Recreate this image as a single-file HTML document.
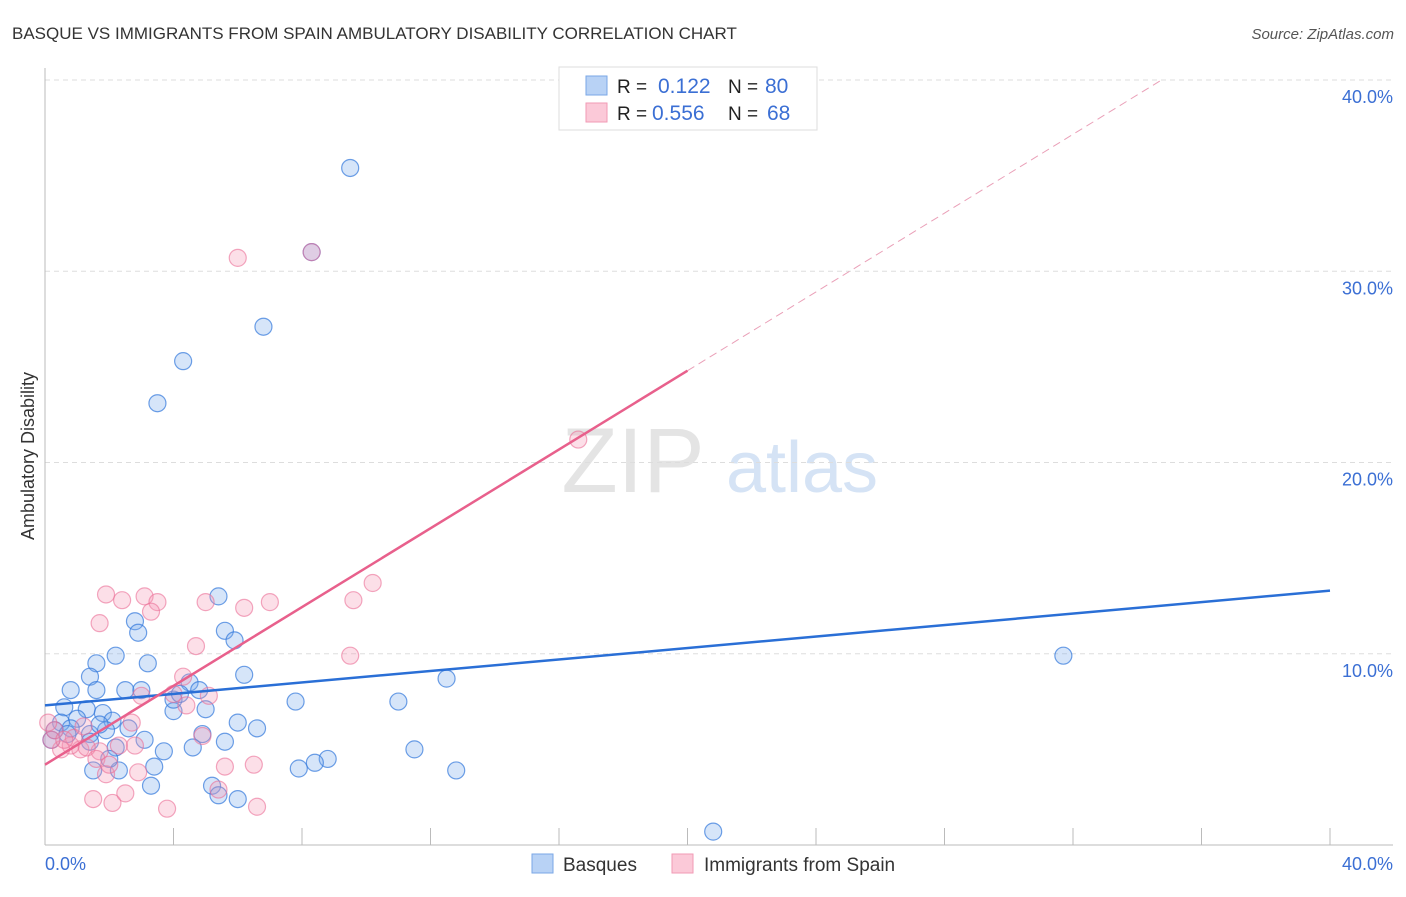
<!DOCTYPE html>
<html><head><meta charset="utf-8">
<style>
body{margin:0;background:#fff;font-family:"Liberation Sans",sans-serif;}
svg text{font-family:"Liberation Sans",sans-serif;}
</style></head>
<body>
<svg id="chart" width="1406" height="892" viewBox="0 0 1406 892">
<text x="12" y="39" font-size="17" fill="#333">BASQUE VS IMMIGRANTS FROM SPAIN AMBULATORY DISABILITY CORRELATION CHART</text>
<text x="1394" y="39" font-size="15" fill="#555" text-anchor="end" font-style="italic">Source: ZipAtlas.com</text>
<g>
<text x="633" y="492" font-size="92" fill="#e4e4e4" font-family="Liberation Serif" text-anchor="middle">ZIP</text>
<text x="802" y="492" font-size="72" fill="#d5e3f5" text-anchor="middle">atlas</text>
</g>
<g id="grid"></g>
<g id="axes"></g>
<g id="points"></g>
<g id="trends"></g>
<text transform="translate(34,456) rotate(-90)" font-size="18" fill="#333" text-anchor="middle">Ambulatory Disability</text>
<text x="45" y="870" font-size="18" fill="#3b6fd4">0.0%</text>
<text x="1393" y="870" font-size="18" fill="#3b6fd4" text-anchor="end">40.0%</text>
<g>
<rect x="559" y="67" width="258" height="63" fill="#fff" stroke="#ddd"/>
<rect x="586" y="76" width="21" height="19" fill="#b8d2f5" stroke="#7aa7e6"/>
<rect x="586" y="103" width="21" height="19" fill="#fbc9d8" stroke="#f19ab5"/>
<text x="617" y="93" font-size="19" fill="#222">R = </text><text x="658" y="93" font-size="21" fill="#3b6fd4">0.122</text>
<text x="728" y="93" font-size="19" fill="#222">N = </text><text x="765" y="93" font-size="21" fill="#3b6fd4">80</text>
<text x="617" y="120" font-size="19" fill="#222">R = </text><text x="652" y="120" font-size="21" fill="#3b6fd4">0.556</text>
<text x="728" y="120" font-size="19" fill="#222">N = </text><text x="767" y="120" font-size="21" fill="#3b6fd4">68</text>
</g>
<g>
<rect x="532" y="854" width="21" height="19" fill="#b8d2f5" stroke="#7aa7e6"/>
<text x="563" y="871" font-size="19" fill="#333">Basques</text>
<rect x="672" y="854" width="21" height="19" fill="#fbc9d8" stroke="#f19ab5"/>
<text x="704" y="871" font-size="19" fill="#333">Immigrants from Spain</text>
</g>
</svg>
<script>
const yTicks=[10,20,30,40];
const yTickLabels=["10.0%","20.0%","30.0%","40.0%"];
const xTicks=[0,4,8,12,16,20,24,28,32,36,40];
const basqueX=[9.5,8.3,6.8,4.3,3.5,31.7,20.8,12.5,11.0,11.5,12.8,7.8,8.8,8.4,7.9,5.4,5.6,5.9,6.2,6.0,6.6,5.6,4.9,4.6,5.2,5.4,6.0,3.3,3.4,3.7,3.1,2.6,2.8,2.9,2.2,1.6,1.4,0.8,1.6,2.5,3.0,3.2,4.0,4.0,4.5,4.8,5.0,4.2,1.3,0.6,1.0,1.8,2.1,1.9,1.4,0.5,0.3,0.2,0.8,2.2,2.3,1.5,2.0,1.4,0.7,1.7];
const basqueY=[35.4,31.0,27.1,25.3,23.1,9.9,0.7,8.7,7.5,5.0,3.9,7.5,4.5,4.3,4.0,13.0,11.2,10.7,8.9,6.4,6.1,5.4,5.8,5.1,3.1,2.6,2.4,3.1,4.1,4.9,5.5,6.1,11.7,11.1,9.9,9.5,8.8,8.1,8.1,8.1,8.1,9.5,7.0,7.6,8.5,8.1,7.1,7.9,7.1,7.2,6.6,6.9,6.5,6.0,5.8,6.4,6.0,5.5,6.1,5.1,3.9,3.9,4.5,5.4,5.8,6.3];
const spainX=[6.0,8.3,16.6,10.2,9.6,9.5,1.9,2.4,3.1,3.5,3.3,1.7,5.0,6.2,7.0,4.7,4.3,4.0,4.4,5.1,4.9,5.6,6.5,5.4,6.6,3.8,2.1,2.5,1.5,2.9,1.9,2.7,2.8,1.7,1.1,0.8,0.5,0.2,0.3,0.9,1.3,1.6,2.0,2.3,0.1,0.6,1.2,3.0];
const spainY=[30.7,31.0,21.2,13.7,12.8,9.9,13.1,12.8,13.0,12.7,12.2,11.6,12.7,12.4,12.7,10.4,8.8,7.9,7.3,7.8,5.7,4.1,4.2,2.9,2.0,1.9,2.2,2.7,2.4,3.8,3.7,6.4,5.2,4.9,5.0,5.2,5.0,5.5,6.0,5.6,5.1,4.5,4.2,5.2,6.4,5.5,6.2,7.8];
const basqueTrend=[7.3,0.15];   // intercept, slope
const spainTrend=[4.2,1.03];    // intercept, slope
const spainSolidEnd=20;

const X0=45,X1=1330,Y0=845,Y40=80;
const sx=v=>X0+(v/40)*(X1-X0);
const sy=v=>Y0-(v/40)*(Y0-Y40);
const NS="http://www.w3.org/2000/svg";
function mk(tag,attrs,parent){const e=document.createElementNS(NS,tag);for(const k in attrs)e.setAttribute(k,attrs[k]);parent.appendChild(e);return e;}

const grid=document.getElementById('grid');
yTicks.forEach((t,i)=>{
  const l=mk('line',{x1:X0,x2:1393,y1:sy(t),y2:sy(t),stroke:'#ddd','stroke-dasharray':'5,4'},grid);
  
  
  const tx=mk('text',{x:1393,y:sy(t)+23,'font-size':18,fill:'#3b6fd4','text-anchor':'end'},grid);
  tx.textContent=yTickLabels[i];
  
  
});
const axes=document.getElementById('axes');
const ya=mk('line',{x1:X0,x2:X0,y1:68,y2:Y0,stroke:'#bbb'},axes);


const xa=mk('line',{x1:X0,x2:1393,y1:Y0,y2:Y0,stroke:'#bbb'},axes);


xTicks.forEach(t=>{
  const l=mk('line',{x1:sx(t),x2:sx(t),y1:828,y2:Y0,stroke:'#bbb'},axes);
  
  
});
const pts=document.getElementById('points');
basqueX.forEach((x,i)=>{
  const c=mk('circle',{cx:sx(x),cy:sy(basqueY[i]),r:8.5,fill:'rgba(120,170,235,0.3)',stroke:'rgba(50,120,220,0.7)','stroke-width':1.2},pts);
  
  
});
spainX.forEach((x,i)=>{
  const c=mk('circle',{cx:sx(x),cy:sy(spainY[i]),r:8.5,fill:'rgba(245,150,180,0.3)',stroke:'rgba(235,110,150,0.6)','stroke-width':1.2},pts);
  
  
});
const tr=document.getElementById('trends');
const bl=mk('line',{x1:sx(0),y1:sy(basqueTrend[0]),x2:sx(40),y2:sy(basqueTrend[0]+40*basqueTrend[1]),stroke:'#2a6fd6','stroke-width':2.5},tr);


const pl=mk('line',{x1:sx(0),y1:sy(spainTrend[0]),x2:sx(spainSolidEnd),y2:sy(spainTrend[0]+spainSolidEnd*spainTrend[1]),stroke:'#e8608c','stroke-width':2.5},tr);


const xe=(40-spainTrend[0])/spainTrend[1];
const pd=mk('line',{x1:sx(spainSolidEnd),y1:sy(spainTrend[0]+spainSolidEnd*spainTrend[1]),x2:sx(xe),y2:sy(40),stroke:'#eaa0b8','stroke-width':1,'stroke-dasharray':'8,5'},tr);


</script>
</body></html>
